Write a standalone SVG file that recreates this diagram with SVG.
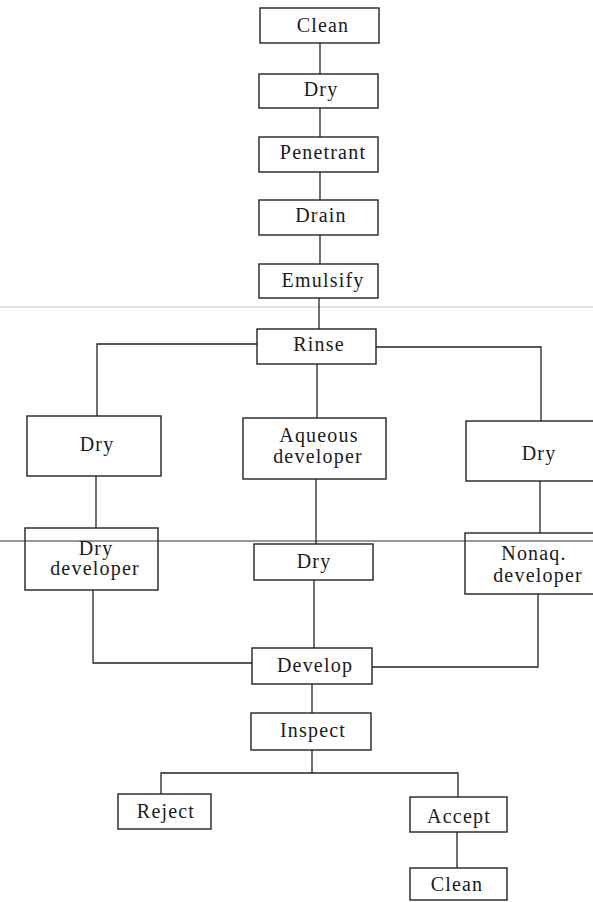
<svg xmlns="http://www.w3.org/2000/svg" width="593" height="902" viewBox="0 0 593 902">
<style>
  .box{fill:none;stroke:#222;stroke-width:1.4}
  .lbl{font-family:"Liberation Serif","Times New Roman",serif;font-size:20px;letter-spacing:1.2px;fill:#1a1a1a;text-anchor:middle}
  .conn path{fill:none;stroke:#222;stroke-width:1.3}
  .scan{stroke-width:1}
</style>
<rect width="593" height="902" fill="#fff"/>
<g id="scan-lines">
  <line class="scan" x1="0" y1="307" x2="593" y2="307" stroke="#c4c4c4"/>
  <line class="scan" x1="0" y1="541" x2="593" y2="541" stroke="#333"/>
</g>
<g id="connectors" class="conn">
  <path d="M320,43 V74"/>
  <path d="M320,108 V137"/>
  <path d="M320,172 V200"/>
  <path d="M320,235 V264"/>
  <path d="M319,298 V329"/>
  <path d="M257,344 H97 V416"/>
  <path d="M376,347 H541 V421"/>
  <path d="M317,364 V418"/>
  <path d="M96,476 V528"/>
  <path d="M316,479 V544"/>
  <path d="M540,481 V533"/>
  <path d="M93,590 V663 H252"/>
  <path d="M314,580 V648"/>
  <path d="M538,594 V667 H372"/>
  <path d="M312,684 V713"/>
  <path d="M312,750 V773"/>
  <path d="M161,794 V773 H458 V797"/>
  <path d="M457,832 V868"/>
</g>
<g id="clean1"><rect class="box" x="260" y="8" width="119" height="35"/><text class="lbl" x="323" y="32">Clean</text></g>
<g id="dry1"><rect class="box" x="259" y="74" width="119" height="34"/><text class="lbl" x="321" y="96">Dry</text></g>
<g id="penetrant"><rect class="box" x="259" y="137" width="119" height="35"/><text class="lbl" x="323" y="159">Penetrant</text></g>
<g id="drain"><rect class="box" x="259" y="200" width="119" height="35"/><text class="lbl" x="321" y="222">Drain</text></g>
<g id="emulsify"><rect class="box" x="259" y="264" width="119" height="34"/><text class="lbl" x="323" y="287">Emulsify</text></g>
<g id="rinse"><rect class="box" x="257" y="329" width="119" height="35"/><text class="lbl" x="319" y="351">Rinse</text></g>
<g id="dry-left"><rect class="box" x="27" y="416" width="134" height="60"/><text class="lbl" x="97" y="451">Dry</text></g>
<g id="aqueous-developer"><rect class="box" x="243" y="418" width="143" height="61"/><text class="lbl" x="319" y="442">Aqueous</text><text class="lbl" x="318" y="463">developer</text></g>
<g id="dry-right"><rect class="box" x="466" y="421" width="140" height="60"/><text class="lbl" x="539" y="460">Dry</text></g>
<g id="dry-developer"><rect class="box" x="25" y="528" width="133" height="62"/><text class="lbl" x="96" y="555">Dry</text><text class="lbl" x="95" y="575">developer</text></g>
<g id="dry-center"><rect class="box" x="254" y="544" width="119" height="36"/><text class="lbl" x="314" y="568">Dry</text></g>
<g id="nonaq-developer"><rect class="box" x="465" y="533" width="140" height="61"/><text class="lbl" x="534" y="560">Nonaq.</text><text class="lbl" x="538" y="582">developer</text></g>
<g id="develop"><rect class="box" x="252" y="648" width="120" height="36"/><text class="lbl" x="315" y="672">Develop</text></g>
<g id="inspect"><rect class="box" x="251" y="713" width="120" height="37"/><text class="lbl" x="313" y="737">Inspect</text></g>
<g id="reject"><rect class="box" x="118" y="794" width="93" height="35"/><text class="lbl" x="166" y="818">Reject</text></g>
<g id="accept"><rect class="box" x="410" y="797" width="97" height="35"/><text class="lbl" x="459" y="823">Accept</text></g>
<g id="clean2"><rect class="box" x="410" y="868" width="97" height="32"/><text class="lbl" x="457" y="891">Clean</text></g>
</svg>
